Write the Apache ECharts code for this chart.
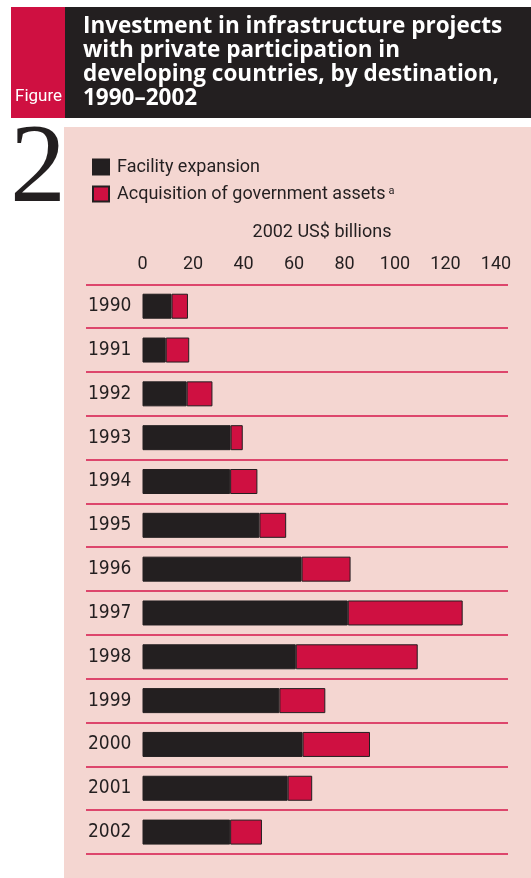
<!DOCTYPE html>
<html>
<head>
<meta charset="utf-8">
<script src="https://cdn.jsdelivr.net/npm/echarts@6/dist/echarts.min.js"></script>
<style>
  html, body { margin: 0; padding: 0; background: #fff; }
  #chart { width: 531px; height: 878px; }
</style>
</head>
<body>
<div id="chart"></div>
<script>
// data (2002 US$ billions)
const years = ['1990', '1991', '1992', '1993', '1994', '1995', '1996', '1997', '1998', '1999', '2000', '2001', '2002'];
const facilityExpansion = [11.5, 9.2, 17.5, 34.9, 34.7, 46.3, 63.0, 81.3, 60.7, 54.2, 63.4, 57.5, 34.7];
const acquisitionAssets = [6.5, 9.3, 10.2, 4.8, 10.8, 10.6, 19.4, 45.5, 48.3, 18.2, 26.7, 9.7, 12.6];
const xTicks = [0, 20, 40, 60, 80, 100, 120, 140];

const DARK = '#231f20';
const RED = '#cf1041';
const PANEL = '#f4d6d1';
const SANS = '"Roboto", "Noto Sans", sans-serif';
const COND = '"DejaVu Sans Condensed", "Roboto", sans-serif';

const chart = echarts.init(document.getElementById('chart'));

const option = {
  animation: false,
  backgroundColor: '#fff',
  graphic: [
    // header band
    { type: 'rect', z: -5, shape: { x: 11, y: 7, width: 54, height: 111 }, style: { fill: RED } },
    { type: 'rect', z: -5, shape: { x: 65, y: 7, width: 466, height: 111 }, style: { fill: DARK } },
    {
      type: 'text', left: 15, top: 88,
      style: { text: 'Figure', fill: '#fff', fontFamily: SANS, fontSize: 17 }
    },
    {
      type: 'text', left: 83, top: 15,
      style: {
        text: 'Investment in infrastructure projects\nwith private participation in\ndeveloping countries, by destination,\n1990\u20132002',
        fill: '#fff', fontFamily: '"Open Sans", sans-serif', fontWeight: 'bold', fontSize: 22.5, lineHeight: 24
      }
    },
    // big figure number
    {
      type: 'text', left: 10, top: 116,
      style: { text: '2', fill: DARK, fontFamily: '"Liberation Serif", serif', fontSize: 112 }
    },
    // pink panel
    { type: 'rect', z: -5, shape: { x: 64, y: 127, width: 467, height: 751 }, style: { fill: PANEL } },
    {
      type: 'text', x: 322, y: 232,
      style: { text: '2002 US$ billions', fill: DARK, fontFamily: SANS, fontSize: 18, align: 'center', verticalAlign: 'middle' }
    }
  ],
  legend: {
    orient: 'vertical',
    left: 87,
    top: 153,
    icon: 'rect',
    itemWidth: 16,
    itemHeight: 15,
    itemGap: 9,
    selectedMode: false,
    formatter: name => name === 'Acquisition of government assets'
      ? '{t|' + name + '}{s|a}'
      : '{t|' + name + '}',
    data: ['Facility expansion', 'Acquisition of government assets'],
    textStyle: {
      color: DARK,
      padding: [0, 0, 0, 3],
      rich: {
        t: { fontFamily: SANS, fontSize: 18, color: DARK, lineHeight: 16 },
        s: { fontFamily: SANS, fontSize: 11, color: DARK, verticalAlign: 'top', padding: [0, 0, 0, 3] }
      }
    }
  },
  grid: { left: 86, right: 23, top: 284.3, height: 569.7 },
  xAxis: {
    type: 'value',
    position: 'top',
    min: -22.38,
    max: 144.75,
    axisLine: { show: false },
    axisTick: { show: false },
    splitLine: { show: false },
    axisLabel: {
      customValues: xTicks,
      margin: 11,
      color: DARK,
      fontFamily: SANS,
      fontSize: 18
    }
  },
  yAxis: {
    type: 'category',
    inverse: true,
    data: years,
    axisLine: { show: false },
    axisTick: { show: false },
    axisLabel: {
      inside: true,
      margin: 2,
      color: DARK,
      fontFamily: COND,
      fontSize: 19
    },
    splitLine: { show: true, lineStyle: { color: '#d6164a', width: 1.5 } }
  },
  series: [
    {
      name: 'Facility expansion',
      type: 'bar',
      stack: 'total',
      barWidth: 25,
      data: facilityExpansion,
      itemStyle: { color: DARK, borderColor: DARK, borderWidth: 1 }
    },
    {
      name: 'Acquisition of government assets',
      type: 'bar',
      stack: 'total',
      barWidth: 25,
      data: acquisitionAssets,
      itemStyle: { color: RED, borderColor: DARK, borderWidth: 1 }
    }
  ]
};

chart.setOption(option);
</script>
</body>
</html>
